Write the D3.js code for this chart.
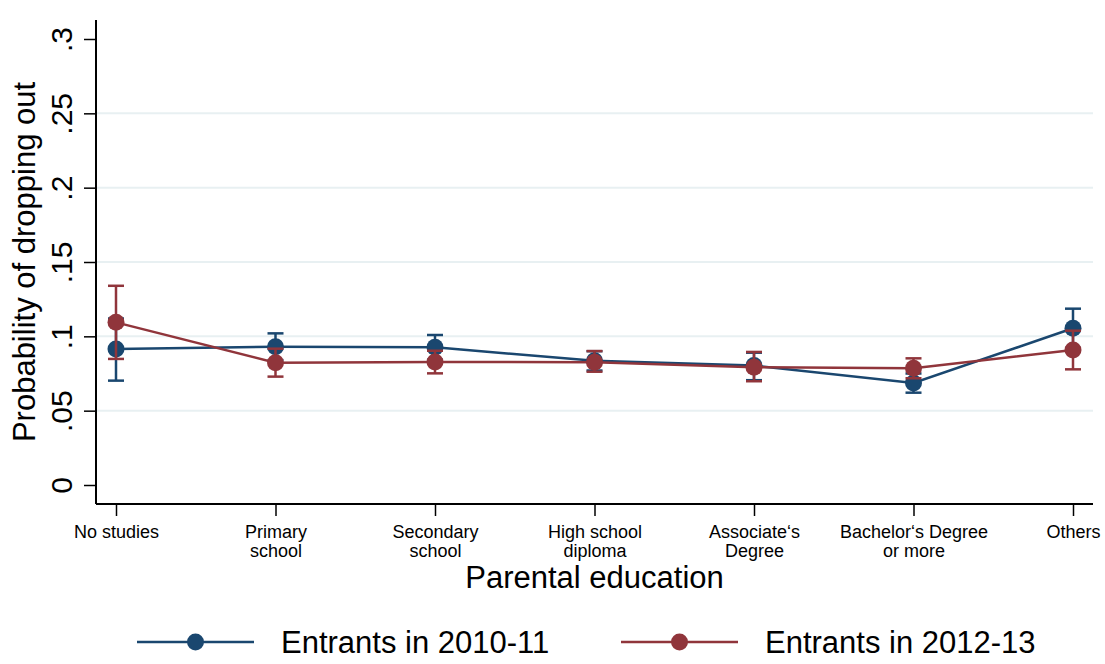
<!DOCTYPE html>
<html>
<head>
<meta charset="utf-8">
<script src="https://cdn.jsdelivr.net/npm/d3@7"></script>
<style>
  html, body { margin: 0; padding: 0; background: #fff; }
  svg { display: block; font-family: "Liberation Sans", Arial, Helvetica, sans-serif; }
</style>
</head>
<body>
<svg id="chart" width="1105" height="664"></svg>
<script>
// Parental education categories (each label may wrap onto two lines)
const categories = [
  ["No studies"],
  ["Primary", "school"],
  ["Secondary", "school"],
  ["High school", "diploma"],
  ["Associate\u2018s", "Degree"],
  ["Bachelor\u2018s Degree", "or more"],
  ["Others"]
];

// Predicted probability of dropping out, with 95% confidence bounds
const cohort1Label = "Entrants in 2010-11";
const cohort1Mean  = [0.0915, 0.0930, 0.0926, 0.0835, 0.0803, 0.0686, 0.1054];
const cohort1Low   = [0.0702, 0.0840, 0.0843, 0.0770, 0.0705, 0.0621, 0.0922];
const cohort1High  = [0.1120, 0.1020, 0.1009, 0.0900, 0.0890, 0.0750, 0.1186];

const cohort2Label = "Entrants in 2012-13";
const cohort2Mean  = [0.1094, 0.0823, 0.0827, 0.0826, 0.0792, 0.0785, 0.0908];
const cohort2Low   = [0.0848, 0.0729, 0.0751, 0.0762, 0.0698, 0.0718, 0.0778];
const cohort2High  = [0.1340, 0.0917, 0.0903, 0.0901, 0.0895, 0.0852, 0.1038];

const yTicks = [0, 0.05, 0.1, 0.15, 0.2, 0.25, 0.3];
const yTickLabels = ["0", ".05", ".1", ".15", ".2", ".25", ".3"];
const yTitle = "Probability of dropping out";
const xTitle = "Parental education";

const blue = "#1a476f";
const red  = "#90353b";
const gridColor = "#e8f0f2";

const svg = d3.select("#chart");

const plotLeft = 96, plotRight = 1093, plotTop = 20, plotBottom = 504;

const x = d3.scalePoint()
  .domain(d3.range(categories.length))
  .range([116, 1073]);

const y = d3.scaleLinear()
  .domain([0, 0.3])
  .range([485, 39]);

// Horizontal gridlines (interior ticks only)
svg.append("g")
  .selectAll("line")
  .data(yTicks.filter(t => t > 0 && t < 0.3))
  .join("line")
  .attr("x1", plotLeft).attr("x2", plotRight)
  .attr("y1", d => y(d)).attr("y2", d => y(d))
  .attr("stroke", gridColor).attr("stroke-width", 2);

// Y axis
const yAxis = d3.axisLeft(y)
  .tickValues(yTicks)
  .tickFormat((d, i) => yTickLabels[i])
  .tickSize(12)
  .tickSizeOuter(0);

const gy = svg.append("g")
  .attr("transform", `translate(${plotLeft},0)`)
  .call(yAxis);
gy.select(".domain").attr("d", `M0,${plotTop}V${plotBottom}`).attr("stroke", "#000").attr("stroke-width", 2);
gy.selectAll(".tick line").attr("stroke", "#000").attr("stroke-width", 1.5);
gy.selectAll(".tick text")
  .attr("x", 0).attr("dy", null)
  .attr("transform", "translate(-24,0) rotate(-90)")
  .attr("text-anchor", "middle")
  .attr("font-size", 30)
  .attr("font-family", "'Liberation Sans', Arial, sans-serif")
  .attr("fill", "#000");

// X axis
const xAxis = d3.axisBottom(x)
  .tickSize(12)
  .tickSizeOuter(0)
  .tickFormat(() => "");

const gx = svg.append("g")
  .attr("transform", `translate(0,${plotBottom})`)
  .call(xAxis);
gx.select(".domain").attr("d", `M${plotLeft},0H${plotRight}`).attr("stroke", "#000").attr("stroke-width", 2);
gx.selectAll(".tick line").attr("stroke", "#000").attr("stroke-width", 1.5);
gx.selectAll(".tick text").remove();
gx.selectAll(".tick").each(function (d) {
  const tick = d3.select(this);
  categories[d].forEach((line, k) => {
    tick.append("text")
      .attr("text-anchor", "middle")
      .attr("font-size", 18)
      .attr("font-family", "'Liberation Sans', Arial, sans-serif")
      .attr("fill", "#000")
      .attr("x", 0)
      .attr("y", 34 + k * 18.5)
      .text(line);
  });
});

// Axis titles
svg.append("text")
  .attr("transform", `translate(35,262) rotate(-90)`)
  .attr("text-anchor", "middle")
  .attr("font-size", 31)
  .attr("fill", "#000")
  .text(yTitle);

svg.append("text")
  .attr("x", (plotLeft + plotRight) / 2)
  .attr("y", 588)
  .attr("text-anchor", "middle")
  .attr("font-size", 31)
  .attr("fill", "#000")
  .text(xTitle);

// Series drawing: line, error bars with caps, filled circle markers
function drawSeries(mean, low, high, color) {
  const g = svg.append("g");
  const idx = d3.range(mean.length);
  const line = d3.line().x(i => x(i)).y(i => y(mean[i]));
  g.append("path")
    .attr("d", line(idx))
    .attr("fill", "none")
    .attr("stroke", color)
    .attr("stroke-width", 2.5);
  const capHalf = 8;
  const eb = g.selectAll(".eb").data(idx).join("g");
  eb.append("line")
    .attr("x1", i => x(i)).attr("x2", i => x(i))
    .attr("y1", i => y(low[i])).attr("y2", i => y(high[i]))
    .attr("stroke", color).attr("stroke-width", 2.5);
  eb.append("line")
    .attr("x1", i => x(i) - capHalf).attr("x2", i => x(i) + capHalf)
    .attr("y1", i => y(low[i])).attr("y2", i => y(low[i]))
    .attr("stroke", color).attr("stroke-width", 2.5);
  eb.append("line")
    .attr("x1", i => x(i) - capHalf).attr("x2", i => x(i) + capHalf)
    .attr("y1", i => y(high[i])).attr("y2", i => y(high[i]))
    .attr("stroke", color).attr("stroke-width", 2.5);
  g.selectAll("circle").data(idx).join("circle")
    .attr("cx", i => x(i)).attr("cy", i => y(mean[i]))
    .attr("r", 8.5)
    .attr("fill", color);
}

drawSeries(cohort1Mean, cohort1Low, cohort1High, blue);
drawSeries(cohort2Mean, cohort2Low, cohort2High, red);

// Legend
const legendItems = [
  { label: cohort1Label, color: blue, x0: 137 },
  { label: cohort2Label, color: red,  x0: 621 }
];
const legendY = 642;
const lg = svg.append("g").selectAll("g").data(legendItems).join("g")
  .attr("transform", d => `translate(${d.x0},${legendY})`);
lg.append("line")
  .attr("x1", 0).attr("x2", 117).attr("y1", 0).attr("y2", 0)
  .attr("stroke", d => d.color).attr("stroke-width", 2.5);
lg.append("circle")
  .attr("cx", 58.5).attr("cy", 0).attr("r", 8.5)
  .attr("fill", d => d.color);
lg.append("text")
  .attr("x", 144).attr("y", 11)
  .attr("font-size", 31)
  .attr("fill", "#000")
  .text(d => d.label);
</script>
</body>
</html>
